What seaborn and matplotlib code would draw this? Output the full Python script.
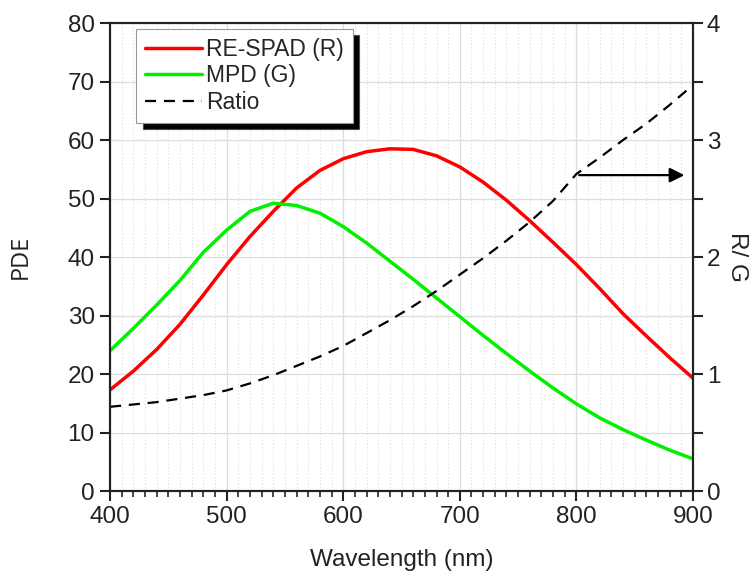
import numpy as np
import pandas as pd
import matplotlib
matplotlib.use('Agg')
import matplotlib.pyplot as plt
from matplotlib.ticker import MultipleLocator
import seaborn as sns

# values
wavelength = [400, 420, 440, 460, 480, 500, 520, 540, 560, 580, 600, 620, 640,
              660, 680, 700, 720, 740, 760, 780, 800, 820, 840, 860, 880, 900]
pde_spad = [17.3, 20.5, 24.2, 28.5, 33.5, 38.7, 43.5, 47.8, 51.8, 54.8, 56.8, 58.0, 58.5,
            58.4, 57.3, 55.4, 52.8, 49.7, 46.2, 42.5, 38.7, 34.6, 30.3, 26.5, 22.8, 19.3]
pde_mpd = [24.0, 27.8, 31.8, 36.0, 40.8, 44.6, 47.8, 49.2, 48.8, 47.5, 45.2, 42.4, 39.3,
           36.2, 33.0, 29.8, 26.6, 23.5, 20.5, 17.6, 14.9, 12.5, 10.5, 8.7, 7.0, 5.5]
ratio = [0.72, 0.74, 0.76, 0.79, 0.82, 0.86, 0.92, 0.99, 1.07, 1.15, 1.24, 1.35, 1.46,
         1.58, 1.71, 1.85, 1.99, 2.14, 2.30, 2.48, 2.71, 2.85, 3.00, 3.14, 3.30, 3.47]

df = pd.DataFrame({'wl': wavelength, 'R': pde_spad, 'G': pde_mpd, 'ratio': ratio})

sns.set_style('white')
plt.rcParams['font.family'] = ['Liberation Sans', 'DejaVu Sans']

fig = plt.figure(figsize=(7.51, 5.71), dpi=100)
ax = fig.add_axes([0.1465, 0.14, 0.7763, 0.8197])
ax2 = ax.twinx()

sns.lineplot(data=df, x='wl', y='R', ax=ax, color='#ff0000', lw=2.5, label='RE-SPAD (R)', legend=False)
sns.lineplot(data=df, x='wl', y='G', ax=ax, color='#00f000', lw=2.5, label='MPD (G)', legend=False)
sns.lineplot(data=df, x='wl', y='ratio', ax=ax2, color='black', lw=1.6, label='Ratio', legend=False)
ax2.lines[0].set_dashes([5, 3.5])

ax.set_xlim(400, 900)
ax.set_ylim(0, 80)
ax2.set_ylim(0, 4)

ax.xaxis.set_major_locator(MultipleLocator(100))
ax.xaxis.set_minor_locator(MultipleLocator(10))
ax.yaxis.set_major_locator(MultipleLocator(10))
ax2.yaxis.set_major_locator(MultipleLocator(1))
ax2.yaxis.set_minor_locator(MultipleLocator(0.5))

ax.grid(which='major', color='#dddddd', lw=0.9)
ax.grid(which='minor', axis='x', color='#dddddd', lw=0.8, ls=(0, (1, 2)))
ax.set_axisbelow(True)

for a in (ax, ax2):
    for s in a.spines.values():
        s.set_linewidth(1.5)
        s.set_color('#222222')

ax.tick_params(axis='both', which='major', direction='out', length=7, width=1.5, pad=4,
               labelsize=17.5, colors='#222222', bottom=True, left=True, top=False, right=False)
ax.tick_params(axis='x', which='minor', direction='out', length=4, width=1.2, bottom=True, top=False)
ax2.tick_params(axis='y', which='major', direction='out', length=7, width=1.5, labelsize=17.5,
                colors='#222222', right=True, pad=3)
ax2.tick_params(axis='y', which='minor', direction='out', length=7, width=1.5, right=True)

ax.set_xlabel('Wavelength (nm)', fontsize=17.5, labelpad=15, color='#222222')
ax.set_ylabel('PDE', fontsize=17, labelpad=25, color='#222222', family=['Open Sans', 'DejaVu Sans'])
ax2.set_ylabel('R/ G', fontsize=17.5, rotation=-90, labelpad=20, color='#222222')

# arrow pointing to the right-hand axis
ax2.annotate('', xy=(895, 2.7), xytext=(800, 2.7),
             arrowprops=dict(arrowstyle='-|>', color='black', lw=1.6, mutation_scale=22))

handles = ax.lines[:2] + ax2.lines[:1]
leg = ax2.legend(handles, ['RE-SPAD (R)', 'MPD (G)', 'Ratio'], loc='upper left',
                 bbox_to_anchor=(0.045, 0.988), borderaxespad=0, fontsize=16.5,
                 fancybox=False, frameon=True, edgecolor='#999999', framealpha=1,
                 handlelength=2.45, handletextpad=0.2, labelspacing=0.15,
                 borderpad=0.4, shadow={'ox': 4.5, 'oy': -4.5, 'facecolor': 'black', 'alpha': 1})
leg.get_frame().set_linewidth(0.8)

fig.savefig('out.png', dpi=100)
